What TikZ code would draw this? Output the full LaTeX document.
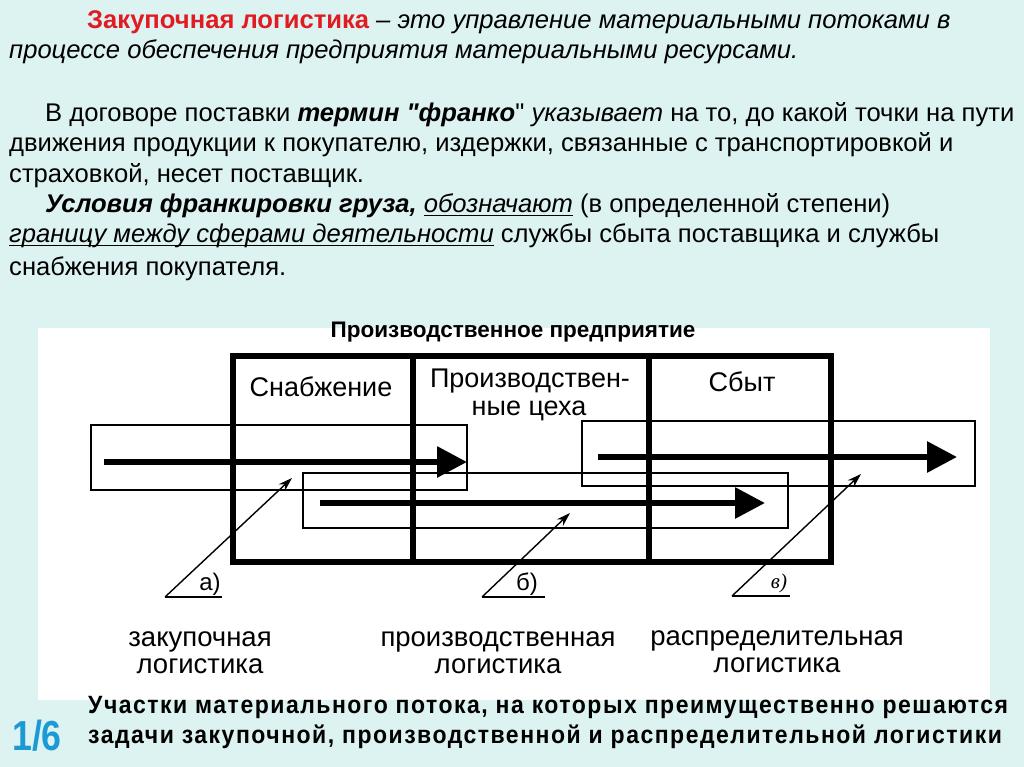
\documentclass[tikz,border=0pt]{standalone}
\usepackage{fontspec}
\setmainfont{Liberation Sans}
\newfontfamily\qfont{Liberation Sans}
\newfontfamily\narrowfont[FakeStretch=0.92,LetterSpace=6]{Liberation Sans}
\newfontfamily\numfont[FakeStretch=0.85]{Liberation Sans}
\newfontfamily\timesfont{Liberation Serif}
\usetikzlibrary{arrows.meta}
\definecolor{bgc}{HTML}{DDF3F1}
\definecolor{redt}{HTML}{E11B22}
\definecolor{bluet}{HTML}{1C9AD6}
\newcommand\myul[1]{\setbox0\hbox{#1}\rlap{\rule[-3.5pt]{\wd0}{1.2pt}}\box0\relax}
\newcommand\sq{{\qfont"}}
\tikzset{
 txt/.style={anchor=base west, inner sep=0pt, font=\fontsize{25.6}{30}\selectfont},
 frame/.style={draw, line width=6.5pt},
 band/.style={draw, line width=1.4pt},
 flow/.style={line width=6pt, -{Triangle[length=30pt,width=30pt]}},
 ptr/.style={line width=1.4pt, -{Stealth[length=14pt,width=9pt]}},
 lbl/.style={anchor=base, inner sep=0pt, font=\fontsize{27.5}{30}\selectfont},
 sect/.style={anchor=base, inner sep=0pt, font=\fontsize{27}{30}\selectfont},
 btm/.style={anchor=base west, inner sep=0pt, font=\narrowfont\bfseries\fontsize{25}{28}\selectfont},
}
\begin{document}
\begin{tikzpicture}[x=1pt,y=-1pt]
\useasboundingbox (0,0) rectangle (1024,767);
\fill[bgc] (0,0) rectangle (1024,767);
\fill[white] (38,328) rectangle (990,700);
% top text
\node[txt] (l1) at (87,29) {{\bfseries\color{redt}Закупочная логистика} \textit{– это управление материальными потоками в}};
\node[txt] (l2) at (9,59) {\textit{процессе обеспечения предприятия материальными ресурсами.}};
\node[txt] (l3) at (45,122) {В договоре поставки \textbf{\textit{термин \sq франко}}\sq\ \textit{указывает} на то, до какой точки на пути};
\node[txt] (l4) at (9,152) {движения продукции к покупателю, издержки, связанные с транспортировкой и};
\node[txt] (l5) at (9,183) {страховкой, несет поставщик.};
\node[txt] (l6) at (45,213) {\textbf{\textit{Условия франкировки груза,}} \myul{\textit{обозначают}} (в определенной степени)};
\node[txt] (l7) at (9,243) {\myul{\textit{границу между сферами деятельности}} службы сбыта поставщика и службы};
\node[txt] (l8) at (9,275) {снабжения покупателя.};
% diagram title
\node[anchor=base, inner sep=0pt, font=\bfseries\fontsize{22.5}{24}\selectfont] (title) at (513,337) {Производственное предприятие};
% enterprise frame
\draw[frame] (233,356) rectangle (831,562);
\draw[frame] (413,356) -- (413,562);
\draw[frame] (649,356) -- (649,562);
\node[sect] (s1) at (321,396) {Снабжение};
\node[sect] (s2a) at (530,387) {Производствен-};
\node[sect] (s2b) at (529,415) {ные цеха};
\node[sect] (s3) at (742,391) {Сбыт};
% bands
\draw[band] (91,425) rectangle (467,490);
\draw[band] (303,473) rectangle (788,528);
\draw[band] (582,421) rectangle (975,486);
% flows
\coordinate (f1s) at (104,462); \coordinate (f1e) at (467,462);
\coordinate (f2s) at (320,503); \coordinate (f2e) at (765,503);
\coordinate (f3s) at (598,457); \coordinate (f3e) at (957,457);
\draw[flow] (f1s) -- (f1e);
\draw[flow] (f2s) -- (f2e);
\draw[flow] (f3s) -- (f3e);
% pointers
\coordinate (pa) at (165,597); \coordinate (pae) at (222,597); \coordinate (pat) at (292,478);
\coordinate (pb) at (482,597); \coordinate (pbe) at (545,597); \coordinate (pbt) at (570,513);
\coordinate (pc) at (732,596); \coordinate (pce) at (790,596); \coordinate (pct) at (861,474);
\draw[line width=1.4pt] (pae) -- (pa);
\draw[ptr] (pa) -- (pat);
\draw[line width=1.4pt] (pbe) -- (pb);
\draw[ptr] (pb) -- (pbt);
\draw[line width=1.4pt] (pce) -- (pc);
\draw[ptr] (pc) -- (pct);
\node[anchor=base, inner sep=0pt, font=\fontsize{24}{26}\selectfont] (la) at (210,590) {а)};
\node[anchor=base, inner sep=0pt, font=\fontsize{24}{26}\selectfont] (lb) at (527,590) {б)};
\node[anchor=base, inner sep=0pt, font=\timesfont\itshape\fontsize{21}{24}\selectfont] (lc) at (779,588) {в)};
% logistics labels
\node[lbl] (z1) at (200,646) {закупочная};
\node[lbl] (z2) at (200,673) {логистика};
\node[lbl] (p1) at (498,646) {производственная};
\node[lbl] (p2) at (498,673) {логистика};
\node[lbl] (r1) at (777,645) {распределительная};
\node[lbl] (r2) at (777,672) {логистика};
% bottom caption
\node[btm] (b1) at (88,713) {Участки материального потока, на которых преимущественно решаются};
\node[btm] (b2) at (88,743) {задачи закупочной, производственной и распределительной логистики};
\node[anchor=base west, inner sep=0pt, text=bluet, font=\numfont\bfseries\fontsize{42}{44}\selectfont] (num) at (12,750) {1/6};
\end{tikzpicture}
\end{document}
